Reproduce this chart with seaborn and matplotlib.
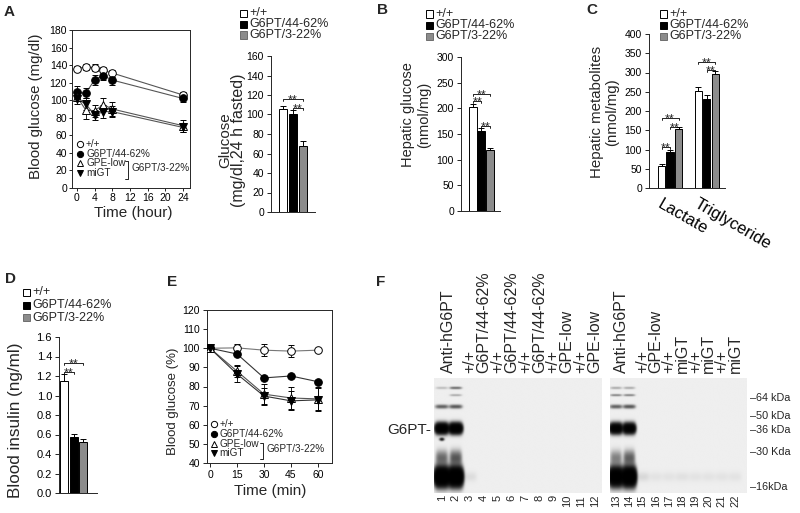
import numpy as np
import pandas as pd
import matplotlib
matplotlib.use("Agg")
import matplotlib.pyplot as plt
import seaborn as sns
from matplotlib.patches import Rectangle
from matplotlib.ticker import FormatStrFormatter
from matplotlib.transforms import ScaledTranslation, blended_transform_factory

# ---------------- data ----------------
genotypes = ["+/+", "G6PT/44-62%", "G6PT/3-22%"]
bar_colors = ["white", "black", "#8c8c8c"]

# A: fasting time course (mg/dl)
fast_hours = [0, 2, 4, 6, 8, 24]
fast_wt = [136, 138, 137, 134, 131, 106]
fast_wt_err = [3, 3, 4, 4, 4, 3]
fast_4462 = [109, 108, 123, 128, 123, 102]
fast_4462_err = [7, 6, 6, 5, 6, 4]
fast_gpe = [104, 89, 88, 95, 90, 71]
fast_gpe_err = [5, 10, 7, 7, 8, 7]
fast_migt = [101, 96, 83, 87, 87, 69]
fast_migt_err = [5, 7, 6, 7, 6, 5]

# A (bar): glucose after 24 h fast
glucose_24h = [106, 101, 68]
glucose_24h_err = [3, 4, 5]

# B: hepatic glucose
hep_glucose = [203, 155, 118]
hep_glucose_err = [6, 7, 4]

# C: hepatic metabolites
metabolites = ["Lactate", "Triglyceride"]
lactate = [58, 94, 152]
lactate_err = [4, 6, 6]
triglyceride = [252, 231, 296]
triglyceride_err = [10, 10, 7]

# D: blood insulin
insulin = [1.15, 0.57, 0.52]
insulin_err = [0.07, 0.04, 0.03]

# E: insulin tolerance (%)
itt_min = [0, 15, 30, 45, 60]
itt_wt = [100, 100.2, 99, 98.5, 99]
itt_wt_err = [0, 2, 3, 3, 0]
itt_4462 = [100, 97, 84.5, 85.5, 82.5]
itt_4462_err = [0, 1, 1, 1, 1]
itt_gpe = [100, 88, 76, 74, 73.5]
itt_gpe_err = [0, 3, 5.5, 6, 6]
itt_migt = [100, 86.5, 75, 72.5, 73]
itt_migt_err = [0, 4, 4, 5, 6]

# F: western blot
blot_rows = [8.5, 14.8, 24.8, 43.8, 69.5, 86.0]          # migration, % of gel height
blot_antibody_lanes = [1, 2, 13, 14]
blot_intensity = [
    [0.25, 0.0, 0.9, 6.0, 0.8, 8.0],
    [0.8, 0.35, 1.0, 6.0, 1.0, 8.0],
    [0.35, 0.6, 0.9, 5.0, 0.6, 6.5],
    [0.35, 0.6, 1.0, 5.0, 0.9, 7.5],
]
blot_spot_lane, blot_spot_pos, blot_spot_int = 1, 53.3, 2.0
blot_faint_lanes = [3, 15, 16, 17, 18, 19, 20, 21, 22]
blot_faint_int = [0.08, 0.1, 0.05, 0.05, 0.06, 0.05, 0.05, 0.05, 0.05]
lane_label_pos = [1.5, 3, 4, 5, 6, 7, 8, 9, 10, 11, 12,
                  13.4, 15, 16, 17, 18, 19, 20, 21, 22]
lane_label_text = ["Anti-hG6PT", "+/+", "G6PT/44-62%", "+/+", "G6PT/44-62%",
                   "+/+", "G6PT/44-62%", "+/+", "GPE-low", "+/+", "GPE-low",
                   "Anti-hG6PT", "+/+", "GPE-low", "+/+", "miGT", "+/+", "miGT",
                   "+/+", "miGT"]
kda_labels = ["64 kDa", "50 kDa", "36 kDa", "30 Kda", "16kDa"]
kda_pos = [17.4, 33.0, 45.2, 64.3, 94.8]

# ---------------- style ----------------
sns.set_style("ticks")
plt.rcParams["font.family"] = ["Liberation Sans", "DejaVu Sans"]
plt.rcParams["axes.linewidth"] = 0.7

W, H = 800, 513
fig = plt.figure(figsize=(W / 100, H / 100), dpi=100)


def add_ax(l, t, r, b):
    return fig.add_axes([l / W, 1 - b / H, (r - l) / W, (b - t) / H])


def ftext(x, y, s, **kw):
    return fig.text(x / W, 1 - y / H, s, **kw)


def style_ticks(ax, length=3, pad=2):
    ax.tick_params(labelsize=7.5, length=length, width=0.6, pad=pad, colors="black")


def sq_legend(x, ys):
    for y, c, lab in zip(ys, bar_colors, genotypes):
        ec = "black" if c != "#8c8c8c" else "#6e6e6e"
        fig.patches.append(Rectangle(((x - 3.5) / W, 1 - (y + 3.5) / H), 7 / W, 7 / H,
                                     transform=fig.transFigure, fc=c, ec=ec, lw=0.7))
        ftext(x + 6, y, lab, fontsize=9, va="center", ha="left")


def bar_panel(ax, groups, vals, errs, width, gap, xlim, ylim, yticks):
    n = len(genotypes)
    df = pd.DataFrame({
        "group": [g for g in groups for _ in genotypes],
        "genotype": genotypes * len(groups),
        "value": [v for row in vals for v in row],
    })
    sns.barplot(data=df, x="group", y="value", hue="genotype", order=groups,
                hue_order=genotypes, palette=dict(zip(genotypes, bar_colors)),
                saturation=1, width=width, gap=gap, edgecolor="black",
                linewidth=0.7, errorbar=None, legend=False, ax=ax)
    step = width / n
    centers = []
    for gi, (row, erow) in enumerate(zip(vals, errs)):
        xs = [gi + (k - (n - 1) / 2) * step for k in range(n)]
        centers.append(xs)
        ax.errorbar(xs, row, yerr=[[0] * n, erow], fmt="none", ecolor="black",
                    elinewidth=0.7, capsize=2.2, capthick=0.7, zorder=4)
    ax.set(xlim=xlim, ylim=ylim, yticks=yticks, xlabel="", ylabel="")
    sns.despine(ax=ax)
    style_ticks(ax)
    return centers


def sig(ax, x1, x2, y, tick_px=2.0):
    bb = ax.get_window_extent()
    y0, y1 = ax.get_ylim()
    t = (y1 - y0) * tick_px / bb.height
    ax.plot([x1, x1, x2, x2], [y - t, y, y, y - t], color="black", lw=0.6, clip_on=False)
    ax.annotate("**", xy=((x1 + x2) / 2, y), xytext=(0, -3.3), textcoords="offset points",
                ha="center", va="baseline", fontsize=9)


# ---------------- Panel A (time course) ----------------
axA = add_ax(72, 30, 190, 188)
seriesA = [(fast_wt, fast_wt_err, "o", "white"),
           (fast_4462, fast_4462_err, "o", "black"),
           (fast_gpe, fast_gpe_err, "^", "white"),
           (fast_migt, fast_migt_err, "v", "black")]
for vals, errs, mk, fc in seriesA:
    sns.lineplot(x=fast_hours, y=vals, ax=axA, color="#555555", lw=0.8)
    axA.errorbar(fast_hours, vals, yerr=errs, fmt=mk, mfc=fc, mec="black", mew=0.7,
                 ms=5.5, ecolor="black", elinewidth=0.6, capsize=2.2, capthick=0.6, zorder=3)
axA.set(xlim=(-1.1, 25.6), ylim=(0, 180), xticks=range(0, 25, 4), yticks=range(0, 181, 20))
style_ticks(axA, length=2, pad=1.5)


def line_legend(ax, mx, tx, ys, bx, by, gx, gy, labels):
    specs = [("o", "white"), ("o", "black"), ("^", "white"), ("v", "black")]
    for (mk, fc), y, lab in zip(specs, ys, labels):
        ax.plot([mx], [y], marker=mk, mfc=fc, mec="black", mew=0.7, ms=4.5,
                transform=ax.transAxes, clip_on=False, ls="none")
        ax.text(tx, y, lab, transform=ax.transAxes, fontsize=7.2, va="center", ha="left")
    tick = 0.025
    ax.plot([bx - tick, bx, bx, bx - tick], [by[0], by[0], by[1], by[1]], color="black",
            lw=0.6, transform=ax.transAxes, clip_on=False)
    ax.text(gx, gy, "G6PT/3-22%", transform=ax.transAxes, fontsize=7.2, va="center", ha="left")


legend_labels = ["+/+", "G6PT/44-62%", "GPE-low", "miGT"]
line_legend(axA, 0.068, 0.119, [0.278, 0.215, 0.158, 0.095], 0.475, (0.171, 0.057),
            0.508, 0.127, legend_labels)
ftext(36.5, 106, "Blood glucose (mg/dl)", rotation=90, fontsize=10.8, ha="center", va="center")
ftext(133, 213, "Time (hour)", fontsize=11, ha="center", va="center")
ftext(9, 12, "A", fontsize=11, fontweight="bold", ha="center", va="center")

# ---------------- Panel A (bar) ----------------
axAb = add_ax(271, 56, 315, 212)
cA = bar_panel(axAb, ["24h"], [glucose_24h], [glucose_24h_err], 0.8, 0.2,
               (-0.587, 0.6), (0, 160), range(0, 161, 20))
axAb.tick_params(axis="x", length=0, labelbottom=False)
sig(axAb, cA[0][0], cA[0][2], 115.6)
sig(axAb, cA[0][1], cA[0][2], 107)
sq_legend(243.3, [13.3, 24.3, 35])
ftext(225, 140, "Glucose", rotation=90, fontsize=11, ha="center", va="center")
ftext(238, 140, "(mg/dl,24 h fasted)", rotation=90, fontsize=11.5, ha="center", va="center")

# ---------------- Panel B ----------------
axB = add_ax(461, 57, 500, 211)
cB = bar_panel(axB, ["liver"], [hep_glucose], [hep_glucose_err], 0.8, 0.05,
               (-0.65, 0.6), (0, 300), range(0, 301, 50))
axB.tick_params(axis="x", length=0, labelbottom=False)
sig(axB, cB[0][0], cB[0][2], 227.5)
sig(axB, cB[0][0], cB[0][1], 215)
sig(axB, cB[0][1], cB[0][2], 165.7)
sq_legend(429.3, [14, 25, 36])
ftext(408.3, 115, "Hepatic glucose", rotation=90, fontsize=10.5, ha="center", va="center")
ftext(424, 115, "(nmol/mg)", rotation=90, fontsize=10.5, ha="center", va="center")
ftext(382.7, 10, "B", fontsize=11, fontweight="bold", ha="center", va="center")

# ---------------- Panel C ----------------
axC = add_ax(649, 34, 725, 188)
cC = bar_panel(axC, metabolites, [lactate, triglyceride], [lactate_err, triglyceride_err],
               0.7, 0.15, (-0.575, 1.5), (0, 400), range(0, 401, 50))
axC.tick_params(axis="x", length=0, pad=6)
axC.set_xticks([0, 1])
axC.set_xticklabels(metabolites, rotation=-30, ha="left", va="top",
                    rotation_mode="anchor", fontsize=12)
for lbl in axC.get_xticklabels():
    lbl.set_transform(lbl.get_transform() + ScaledTranslation(-0.075, 0, fig.dpi_scale_trans))
sig(axC, cC[0][0], cC[0][2], 181)
sig(axC, cC[0][1], cC[0][2], 159)
sig(axC, cC[0][0], cC[0][1], 105.7)
sig(axC, cC[1][0], cC[1][2], 326.5)
sig(axC, cC[1][1], cC[1][2], 306.5)
sq_legend(663.3, [14, 25, 36])
ftext(596.7, 112, "Hepatic metabolites", rotation=90, fontsize=10.8, ha="center", va="center")
ftext(612.3, 112, "(nmol/mg)", rotation=90, fontsize=10.8, ha="center", va="center")
ftext(591.7, 10, "C", fontsize=11, fontweight="bold", ha="center", va="center")

# ---------------- Panel D ----------------
axD = add_ax(59, 337, 97, 493)
cD = bar_panel(axD, ["insulin"], [insulin], [insulin_err], 0.8, 0.15,
               (-0.41, 0.66), (0, 1.6), np.arange(0, 1.61, 0.2))
axD.yaxis.set_major_formatter(FormatStrFormatter("%.1f"))
axD.tick_params(axis="x", length=0, labelbottom=False)
axD.tick_params(axis="y", labelsize=8)
sig(axD, cD[0][0], cD[0][2], 1.33)
sig(axD, cD[0][0], cD[0][1], 1.244)
sq_legend(26.7, [292.3, 305, 317.7])
ftext(15.5, 420, "Blood insulin (ng/ml)", rotation=90, fontsize=12.3, ha="center", va="center")
ftext(10, 279.3, "D", fontsize=11, fontweight="bold", ha="center", va="center")

# ---------------- Panel E ----------------
axE = add_ax(207, 310, 332, 463)
seriesE = [(itt_wt, itt_wt_err, "o", "white", "#777777"),
           (itt_4462, itt_4462_err, "o", "black", "#333333"),
           (itt_gpe, itt_gpe_err, "^", "white", "#555555"),
           (itt_migt, itt_migt_err, "v", "black", "#333333")]
for vals, errs, mk, fc, lc in seriesE:
    sns.lineplot(x=itt_min, y=vals, ax=axE, color=lc, lw=0.8)
    axE.errorbar(itt_min, vals, yerr=errs, fmt=mk, mfc=fc, mec="black", mew=0.7,
                 ms=5.5, ecolor="black", elinewidth=0.6, capsize=2.2, capthick=0.6, zorder=3)
axE.set(xlim=(-1.7, 67.8), ylim=(40, 120), xticks=range(0, 61, 15), yticks=range(40, 121, 10))
style_ticks(axE)
line_legend(axE, 0.056, 0.098, [0.255, 0.19, 0.124, 0.065], 0.446, (0.133, 0.024),
            0.473, 0.09, legend_labels)
ftext(173.3, 401.7, "Blood glucose (%)", rotation=90, fontsize=9.5, ha="center", va="center")
ftext(270, 490.7, "Time (min)", fontsize=11, ha="center", va="center")
ftext(171.7, 281.7, "E", fontsize=11, fontweight="bold", ha="center", va="center")

# ---------------- Panel F (blot) ----------------
row_sy = [1.0, 0.9, 1.6, 4.0, 6.0, 7.0]
row_sx = [0.42, 0.42, 0.45, 0.46, 0.42, 0.5]


def render_gel(ax, xlim, lane_first, lane_last):
    xs = np.linspace(xlim[0], xlim[1], 400)
    ys = np.linspace(0, 100, 300)
    X, Y = np.meshgrid(xs, ys)
    dens = np.zeros_like(X)
    for lane, ints in zip(blot_antibody_lanes, blot_intensity):
        if lane_first <= lane <= lane_last:
            for pos, it, sy, sx in zip(blot_rows, ints, row_sy, row_sx):
                dens += it * np.exp(-((X - lane) / sx) ** 4 - ((Y - pos) / sy) ** 2)
    if lane_first <= blot_spot_lane <= lane_last:
        dens += blot_spot_int * np.exp(-((X - blot_spot_lane) / 0.15) ** 2
                                       - ((Y - blot_spot_pos) / 1.2) ** 2)
    for lane, it in zip(blot_faint_lanes, blot_faint_int):
        if lane_first <= lane <= lane_last:
            dens += it * np.exp(-((X - lane) / 0.5) ** 4 - ((Y - blot_rows[-1]) / 4) ** 2)
    img = 0.935 * np.exp(-dens)
    ax.imshow(img, cmap="gray", vmin=0, vmax=1, extent=(xlim[0], xlim[1], 100, 0),
              aspect="auto", interpolation="bilinear")
    ax.set_xlim(xlim)
    ax.set_ylim(100, 0)
    ax.axis("off")
    tr = blended_transform_factory(ax.transData, ax.transAxes)
    for p, t in zip(lane_label_pos, lane_label_text):
        if lane_first - 0.5 <= p <= lane_last + 0.5:
            ax.text(p, 1.043, t, transform=tr, rotation=90, ha="center", va="bottom",
                    fontsize=11.5)
    for ln in range(lane_first, lane_last + 1):
        ax.text(ln, -0.017, str(ln), transform=tr, rotation=90, ha="center", va="top",
                fontsize=8)


axF1 = add_ax(434, 378, 602, 493)
render_gel(axF1, (0.45, 12.5), 1, 12)
axF2 = add_ax(610, 378, 747, 493)
render_gel(axF2, (12.55, 22.9), 13, 22)
trk = blended_transform_factory(axF2.transAxes, axF2.transData)
for lab, pos in zip(kda_labels, kda_pos):
    axF2.text(1.02, pos, "–" + lab, transform=trk, ha="left", va="center", fontsize=7.8)
trg = blended_transform_factory(axF1.transAxes, axF1.transData)
axF1.text(-0.015, blot_rows[3] + 1.4, "G6PT-", transform=trg, ha="right", va="center", fontsize=11)
ftext(380.7, 281.7, "F", fontsize=11, fontweight="bold", ha="center", va="center")

fig.savefig("out.png", dpi=100)
